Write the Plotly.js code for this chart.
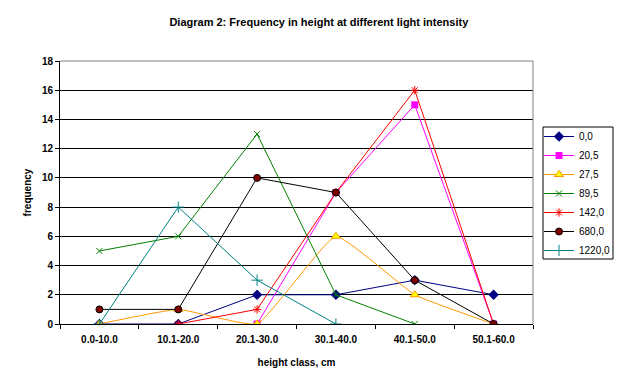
<!DOCTYPE html>
<html>
<head>
<meta charset="utf-8">
<script src="https://cdn.plot.ly/plotly-3.0.1.min.js"></script>
<style>html,body{margin:0;padding:0;background:#fff;}#chart{width:624px;height:389px;}</style>
</head>
<body>
<div id="chart"></div>
<script>
var categories = ["0.0-10.0", "10.1-20.0", "20.1-30.0", "30.1-40.0", "40.1-50.0", "50.1-60.0"];
var seriesNames = ["0,0", "20,5", "27,5", "89,5", "142,0", "680,0", "1220,0"];
var s_0_0    = [0, 0, 2, 2, 3, 2];
var s_20_5   = [null, null, 0, 9, 15, 0];
var s_27_5   = [0, 1, 0, 6, 2, 0];
var s_89_5   = [5, 6, 13, 2, 0, null];
var s_142_0  = [null, 0, 1, 9, 16, 0];
var s_680_0  = [1, 1, 10, 9, 3, 0];
var s_1220_0 = [0, 8, 3, 0, null, null];
var yTicks = [0, 2, 4, 6, 8, 10, 12, 14, 16, 18];

var FONT = "Arial, 'Liberation Sans', sans-serif";

function tr(name, y, color, marker, shape, smoothing) {
  var line = {color: color, width: 1};
  if (shape) { line.shape = shape; line.smoothing = smoothing; }
  return {x: categories, y: y, name: name, type: 'scatter', mode: 'lines+markers',
          line: line, marker: marker, connectgaps: false};
}

var data = [
  tr(seriesNames[0], s_0_0, '#000080', {symbol: 'diamond', size: 8, color: '#000080'}),
  tr(seriesNames[1], s_20_5, '#FF00FF', {symbol: 'square', size: 7, color: '#FF00FF'}),
  tr(seriesNames[2], s_27_5, '#FF9900', {symbol: 'triangle-up', size: 8, color: '#FFFF00', line: {color: '#FF9900', width: 1}}, 'spline', 0.35),
  tr(seriesNames[3], s_89_5, '#008000', {symbol: 'x-thin-open', size: 6, color: '#008000', line: {color: '#008000', width: 1}}),
  tr(seriesNames[4], s_142_0, '#FF0000', {symbol: 'asterisk-open', size: 7, color: '#FF0000', line: {color: '#FF0000', width: 1}}),
  tr(seriesNames[5], s_680_0, '#000000', {symbol: 'circle', size: 7, color: '#800000', line: {color: '#000000', width: 1}}),
  tr(seriesNames[6], s_1220_0, '#008080', {symbol: 'cross-thin-open', size: 8, color: '#008080', line: {color: '#008080', width: 1}})
];

var layout = {
  width: 624, height: 389,
  paper_bgcolor: '#ffffff', plot_bgcolor: '#ffffff',
  margin: {l: 60, r: 91, t: 61, b: 65, pad: 0},
  font: {family: FONT, size: 10, color: '#000000'},
  title: {text: 'Diagram 2: Frequency in height at different light intensity',
          font: {family: FONT, size: 11, weight: 'bold', color: '#000'},
          x: 0.511, xanchor: 'center', y: 1 - 22/389, yanchor: 'middle', xref: 'container', yref: 'container'},
  xaxis: {type: 'category', categoryorder: 'array', categoryarray: categories,
          range: [-0.5, 5.5], showgrid: false, zeroline: false,
          showline: true, linecolor: '#000', linewidth: 1,
          ticks: 'outside', ticklen: 4, tickcolor: '#000', tickson: 'boundaries',
          ticklabelstandoff: 6,
          tickfont: {family: FONT, size: 10, weight: 'bold'},
          title: {text: 'height class, cm', font: {family: FONT, size: 10, weight: 'bold'}, standoff: 14}},
  yaxis: {range: [0, 18], tickvals: yTicks, ticktext: yTicks.map(String),
          showgrid: true, gridcolor: '#000', gridwidth: 1, zeroline: false,
          showline: true, linecolor: '#000', linewidth: 1,
          ticks: 'outside', ticklen: 4, tickcolor: '#000',
          tickfont: {family: FONT, size: 10, weight: 'bold'},
          title: {text: 'frequency', font: {family: FONT, size: 10, weight: 'bold'}, standoff: 8}},
  shapes: [
    {type: 'line', xref: 'paper', yref: 'paper', x0: 0, x1: 1, y0: 1, y1: 1, line: {color: '#808080', width: 1}, layer: 'above'},
    {type: 'line', xref: 'paper', yref: 'paper', x0: 1, x1: 1, y0: 0, y1: 1, line: {color: '#808080', width: 1}, layer: 'above'},
    {type: 'rect', xref: 'paper', yref: 'paper',
     x0: (543 - 60) / 473, x1: (613 - 60) / 473, y0: (324 - 259) / 263, y1: (324 - 127) / 263,
     line: {color: '#000', width: 1}, fillcolor: 'rgba(0,0,0,0)', layer: 'above'}
  ],
  legend: {xref: 'container', yref: 'container', x: 539/624, y: 1 - 122/389, xanchor: 'left', yanchor: 'top',
           borderwidth: 0, bgcolor: 'rgba(0,0,0,0)',
           font: {family: FONT, size: 10}, tracegroupgap: 0, itemwidth: 30},
  showlegend: true
};

Plotly.newPlot('chart', data, layout, {displayModeBar: false, staticPlot: true});
</script>
</body>
</html>
